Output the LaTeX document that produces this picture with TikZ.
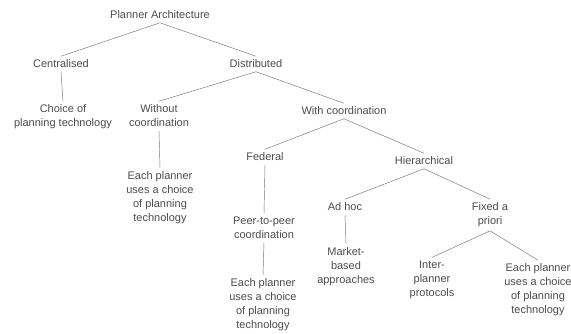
\documentclass[tikz,border=0pt]{standalone}
\usepackage{fontspec}
\setmainfont{Liberation Sans}
\begin{document}
\begin{tikzpicture}[x=1pt,y=-1pt,
  lbl/.style={align=center,inner sep=3.5pt,text=black!70,
    font=\fontsize{11}{14}\selectfont},
  edge/.style={draw=black!55,line width=0.45pt}]
\useasboundingbox (0,0) rectangle (571,333);
% tree nodes
\node[lbl] (root)   at (160,15)  {Planner Architecture};
\node[lbl] (cen)    at (61,64)   {Centralised};
\node[lbl] (dist)   at (256,64)  {Distributed};
\node[lbl] (choice) at (63,117)  {Choice of\\planning technology};
\node[lbl] (wo)     at (159,116) {Without\\coordination};
\node[lbl] (wi)     at (344,111) {With coordination};
\node[lbl] (each1)  at (160,198) {Each planner\\uses a choice\\of planning\\technology};
\node[lbl] (fed)    at (265,157) {Federal};
\node[lbl] (hier)   at (424,161) {Hierarchical};
\node[lbl] (peer)   at (264,228) {Peer-to-peer\\coordination};
\node[lbl] (each2)  at (263,305) {Each planner\\uses a choice\\of planning\\technology};
\node[lbl] (adhoc)  at (345,207) {Ad hoc};
\node[lbl] (fixed)  at (490,215) {Fixed a\\priori};
\node[lbl] (market) at (346,267) {Market-\\based\\approaches};
\node[lbl] (inter)  at (432,280) {Inter-\\planner\\protocols};
\node[lbl] (each3)  at (538,290) {Each planner\\uses a choice\\of planning\\technology};
% connectors
\draw[edge] (root.south) -- (cen.north);
\draw[edge] (root.south) -- (dist.north);
\draw[edge] (cen.south) -- (choice.north);
\draw[edge] (dist.south) -- (wo.north);
\draw[edge] (dist.south) -- (wi.north);
\draw[edge] (wo.south) -- (each1.north);
\draw[edge] (wi.south) -- (fed.north);
\draw[edge] (wi.south) -- (hier.north);
\draw[edge] (fed.south) -- (peer.north);
\draw[edge] (peer.south) -- (each2.north);
\draw[edge] (hier.south) -- (adhoc.north);
\draw[edge] (hier.south) -- (fixed.north);
\draw[edge] (adhoc.south) -- (market.north);
\draw[edge] (fixed.south) -- (inter.north);
\draw[edge] (fixed.south) -- (each3.north);
\end{tikzpicture}
\end{document}
